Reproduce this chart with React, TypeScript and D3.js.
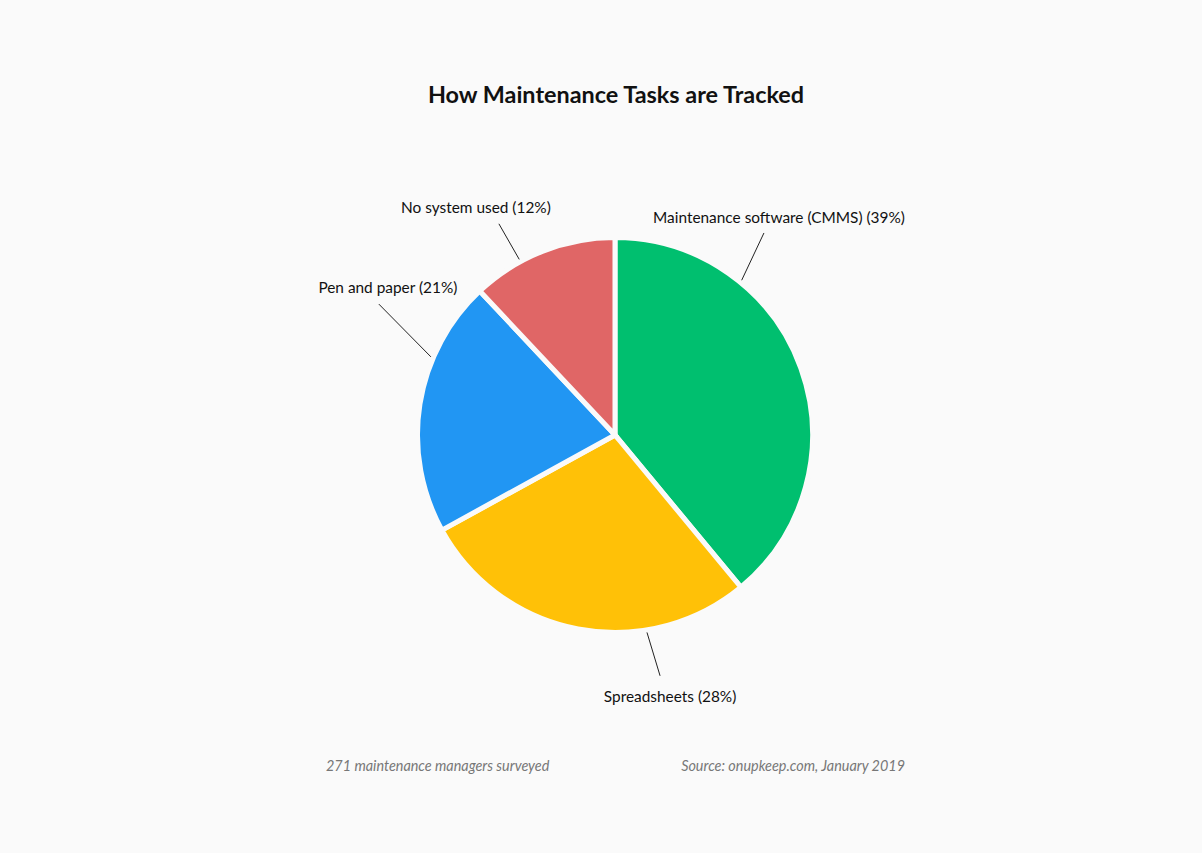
import { useMemo } from "react";
import * as d3 from "d3";

const categories = [
  "Maintenance software (CMMS)",
  "Spreadsheets",
  "Pen and paper",
  "No system used",
];
const shares = [39, 28, 21, 12];
const colors = ["#00BF6F", "#FFC107", "#2196F3", "#E06666"];

// leader-line layout per slice: angle (deg, clockwise from top) at the pie edge and at the label end
const leaders = [
  { a0: 39.3, a1: 36.4, r1: 251, dx: 15, dy: -10 },
  { a0: 170.8, a1: 169.4, r1: 245, dx: 10, dy: 26 },
  { a0: -67, a1: -61, r1: 270, dx: 9, dy: -11 },
  { a0: -28.6, a1: -28.8, r1: 241, dx: -23, dy: -11 },
];

const title = "How Maintenance Tasks are Tracked";
const noteLeft = "271 maintenance managers surveyed";
const noteRight = "Source: onupkeep.com, January 2019";

const W = 1202;
const H = 853;
const cx = 615;
const cy = 435;
const radius = 197.5;
const bg = "#FAFAFA";
const font = "Lato, 'Open Sans', sans-serif";

type Slice = { label: string; value: number; color: string };

function polar(angleDeg: number, r: number): [number, number] {
  const a = (angleDeg * Math.PI) / 180;
  return [Math.sin(a) * r, -Math.cos(a) * r];
}

export default function App() {
  const slices: Slice[] = categories.map((label, i) => ({
    label,
    value: shares[i],
    color: colors[i],
  }));

  const arcs = useMemo(() => d3.pie<Slice>().sort(null).value((d) => d.value)(slices), []);
  const arc = d3.arc<d3.PieArcDatum<Slice>>().innerRadius(0).outerRadius(radius);

  return (
    <>
      <style>{`html, body { margin: 0; padding: 0; background: ${bg}; }`}</style>
      <svg width={W} height={H} style={{ display: "block" }}>
        <rect width={W} height={H} fill={bg} />
        <text
          x={616}
          y={103}
          textAnchor="middle"
          fontFamily={font}
          fontWeight={700}
          fontSize={23.4}
          fill="#111"
        >
          {title}
        </text>
        <g transform={`translate(${cx}, ${cy})`}>
          {arcs.map((d, i) => (
            <path key={i} d={arc(d) ?? ""} fill={d.data.color} stroke={bg} strokeWidth={5} strokeLinejoin="miter" />
          ))}
          {arcs.map((d, i) => {
            const l = leaders[i];
            const [x0, y0] = polar(l.a0, 200);
            const [x1, y1] = polar(l.a1, l.r1);
            return (
              <g key={`l${i}`}>
                <line x1={x0} y1={y0} x2={x1} y2={y1} stroke="#222" strokeWidth={1} />
                <text
                  x={x1 + l.dx}
                  y={y1 + l.dy}
                  textAnchor="middle"
                  fontFamily={font}
                  fontSize={15.4}
                  fill="#111"
                >
                  {`${d.data.label} (${d.data.value}%)`}
                </text>
              </g>
            );
          })}
        </g>
        <text x={326} y={771} fontFamily={font} fontStyle="italic" fontSize={14.4} fill="#777">
          {noteLeft}
        </text>
        <text x={905} y={771} textAnchor="end" fontFamily={font} fontStyle="italic" fontSize={14.4} fill="#777">
          {noteRight}
        </text>
      </svg>
    </>
  );
}
